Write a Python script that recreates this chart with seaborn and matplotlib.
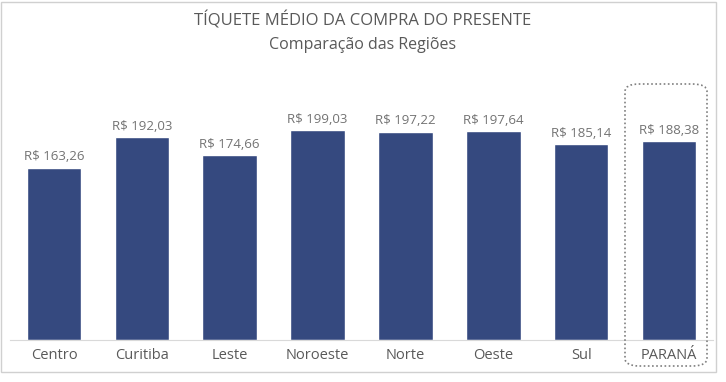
import matplotlib
matplotlib.use("Agg")
import matplotlib.pyplot as plt
import seaborn as sns
import pandas as pd
import numpy as np
from matplotlib.patches import FancyBboxPatch, Rectangle

regioes = ['Centro', 'Curitiba', 'Leste', 'Noroeste', 'Norte', 'Oeste', 'Sul', 'PARANÁ']
ticket = [163.26, 192.03, 174.66, 199.03, 197.22, 197.64, 185.14, 188.38]

df = pd.DataFrame({'regiao': regioes, 'ticket': ticket})

sns.set_style('white')
plt.rcParams['font.family'] = ['Open Sans', 'DejaVu Sans']

cor_barra = '#35497f'
cor_texto = '#595959'
cor_rotulo = '#737373'

fig = plt.figure(figsize=(7.26, 3.82), dpi=100)
ax = fig.add_axes([10 / 726, 42 / 382, 703 / 726, 262 / 382])

sns.barplot(data=df, x='regiao', y='ticket', color=cor_barra, width=0.62,
            saturation=1, ax=ax)

for i, v in enumerate(ticket):
    ax.text(i, v + 4, 'R$ ' + f'{v:.2f}'.replace('.', ','), ha='center', va='bottom',
            fontsize=9.5, color=cor_rotulo)

ax.set_ylim(0, 248)
ax.set_xlim(-0.5, len(regioes) - 0.5)
ax.set_xlabel('')
ax.set_ylabel('')
ax.set_yticks([])
for s in ['top', 'right', 'left']:
    ax.spines[s].set_visible(False)
ax.spines['bottom'].set_color('#d9d9d9')
ax.tick_params(axis='x', which='major', length=0, labelsize=10.5, labelcolor=cor_texto, pad=6)
ax.set_xticks(np.arange(-0.5, len(regioes)), minor=True)
ax.tick_params(axis='x', which='minor', length=5, color='#d9d9d9', direction='out')

fig.text(0.5, 1 - 20 / 382, 'TÍQUETE MÉDIO DA COMPRA DO PRESENTE', ha='center', va='center',
         fontsize=12, color=cor_texto)
fig.text(0.5, 1 - 45 / 382, 'Comparação das Regiões', ha='center', va='center',
         fontsize=11.5, color=cor_texto)

# borda do gráfico
fig.patches.append(Rectangle((1 / 726, 10 / 382), 715 / 726, 370 / 382, transform=fig.transFigure,
                             fill=False, edgecolor='#d0d0d0', linewidth=1))

# destaque do Paraná
fig.patches.append(FancyBboxPatch((625 / 726, 16 / 382), 82 / 726, 282 / 382,
                                  boxstyle='round,pad=0,rounding_size=0.02',
                                  transform=fig.transFigure, fill=False,
                                  edgecolor='#7f7f7f', linestyle=(0, (1, 1.5)), linewidth=1.2))

fig.savefig('out.png', dpi=100, facecolor='white')
